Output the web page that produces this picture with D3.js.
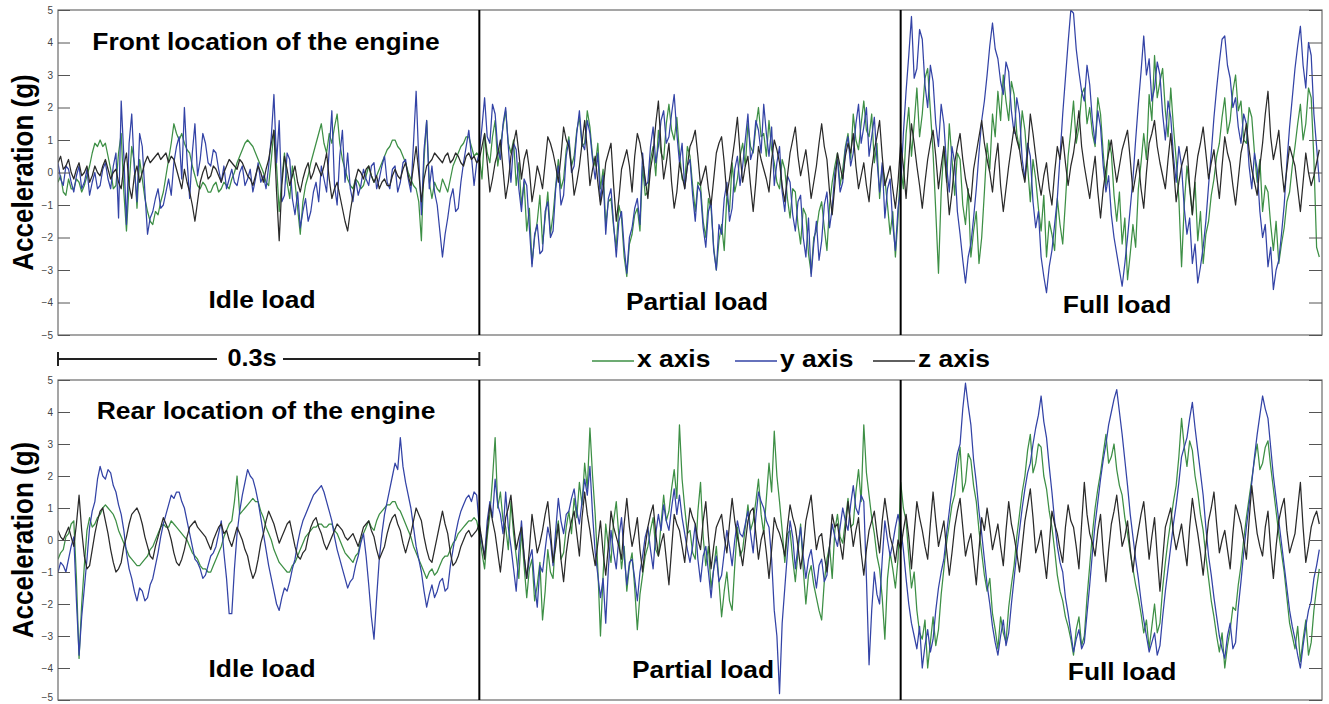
<!DOCTYPE html>
<html><head><meta charset="utf-8">
<script src="https://cdn.jsdelivr.net/npm/d3@7"></script>
<style>body{margin:0;background:#fff} text{font-family:"Liberation Sans",Arial,sans-serif}</style>
</head><body><svg id="c" width="1329" height="704"></svg>
<script>
const segmentNames = ["Idle load", "Partial load", "Full load"];
const segmentSeconds = 0.3;
const yTicks = [5, 4, 3, 2, 1, 0, -1, -2, -3, -4, -5];
const seriesNames = ["x axis", "y axis", "z axis"];
const seriesColors = ["#3d8f45", "#3343a6", "#2a2a2a"];
const panelTitles = ["Front location of the engine", "Rear location of the engine"];
const scaleLabel = "0.3s";
const yLabel = "Acceleration (g)";

// ---- Front location: x axis (green)
const frontIdleX = [-0.3,-0.1,-0.6,-0.7,-0.2,-0.5,-0.5,-0.2,-0.3,-0.6,-0.4,-0.1,0.2,0.6,0.9,0.8,1.0,0.8,0.9,0.5,
0.1,-0.5,-0.4,0.6,1.2,-0.6,-1.8,-0.4,0.8,0.3,-1.1,0.4,-0.2,-0.8,-1.2,-1.5,-1.6,-1.2,-1.3,-0.9,
-0.6,-0.1,0.4,0.9,1.5,1.2,1.0,1.2,0.9,0.7,0.6,0.2,-0.1,-0.4,-0.5,-0.3,-0.4,-0.6,-0.6,-0.4,
-0.3,-0.6,-0.5,-0.3,-0.4,-0.5,-0.2,0.0,0.3,0.5,0.7,0.9,1.0,0.9,0.8,0.6,0.4,0.2,0.0,-0.3,
-0.4,0.4,1.3,0.2,-1.2,-0.2,0.6,-0.3,-0.8,0.2,-0.3,-1.1,-1.9,-0.9,-0.4,-0.1,0.3,0.6,0.9,1.2,
1.5,0.9,0.6,1.2,0.9,1.4,1.8,0.9,0.4,0.1,-0.2,-0.4,-0.5,-0.2,-0.3,-0.5,-0.4,-0.1,0.2,-0.1,
-0.3,-0.1,0.1,0.3,0.5,0.7,0.8,1.0,1.0,0.8,0.7,0.5,0.3,0.0,-0.2,-0.4,-0.5,-0.9,-2.1,0.4,
1.6,-0.3,-0.8,-0.3,-0.5,-0.6,-0.2,-0.4,-0.6,-0.2,0.2,0.4,0.6,0.8,0.9,1.1,1.1,0.8,0.5,0.6];
const frontPartialX = [0.5,-0.2,1.2,0.6,0.3,1.1,1.6,0.2,0.8,1.4,1.9,0.9,0.6,1.0,-0.4,0.3,-1.0,-0.3,-1.8,-1.1,
-2.8,-2.0,-1.5,-0.7,-2.2,-1.4,-0.6,-1.9,-1.3,-0.4,0.4,-0.5,-0.2,0.7,1.1,0.2,0.5,1.3,1.7,0.8,
0.9,1.9,1.4,0.5,0.2,0.9,-0.5,0.1,-1.6,-0.9,-0.8,-1.7,-2.3,-1.0,-1.4,-2.6,-3.2,-2.2,-1.9,-1.3,
-1.1,-1.8,0.2,-0.7,-0.6,0.4,0.8,-0.1,1.3,0.6,0.4,1.5,2.1,1.3,1.0,1.7,0.6,-0.2,-0.3,0.8,
0.5,-0.4,-1.2,-0.3,-0.4,-1.5,-2.0,-0.8,-1.1,-2.3,-3.0,-2.1,-1.6,-2.4,-0.7,-1.2,0.3,-0.6,-0.2,0.5,
0.9,0.2,1.5,0.8,0.6,1.4,2.0,1.1,1.2,0.5,1.6,0.7,0.3,-0.3,-0.5,0.4,0.1,-0.8,-1.4,-0.5,
-0.6,-1.6,-2.2,-1.1,-1.3,-2.5,-3.1,-2.0,-1.8,-1.2,-0.9,-1.7,-2.4,-1.0,-0.3,0.2,0.6,-0.4,0.1,0.8,
1.2,0.4,1.8,1.0,0.7,1.5,2.2,1.3,1.1,1.8,0.3,0.9,-0.8,0.2,-0.2,-1.0,-1.9,-1.2,-2.6,-1.4];
const frontFullX = [0.2,-0.5,1.2,2.0,0.5,1.5,2.6,1.1,1.8,2.9,3.2,1.9,0.6,-1.2,-3.1,-0.6,0.8,-0.3,1.5,0.4,
-0.7,0.6,0.4,-1.0,-1.6,-0.5,-2.6,-1.8,-1.2,-2.8,-2.0,-0.6,0.9,0.1,1.8,1.1,2.5,1.6,3.0,2.2,
1.6,2.8,2.4,1.2,0.7,1.9,1.3,0.2,-0.9,0.4,-0.2,-1.1,-1.8,-0.7,-2.6,-1.5,-1.9,-2.4,-0.8,-1.6,
-2.2,-0.9,0.5,1.3,2.2,0.9,1.4,2.4,2.6,1.5,2.0,1.2,0.8,2.3,1.8,0.6,-0.4,1.0,0.6,-0.7,
-1.5,-0.6,-2.2,-1.4,-3.3,-2.5,-1.6,-2.3,-0.5,0.3,1.2,0.4,2.4,1.6,3.6,2.3,2.8,3.2,1.9,1.1,
2.6,1.4,0.4,-0.8,-2.9,-1.0,0.2,-0.5,-1.3,-0.3,-2.1,-1.2,-2.8,-1.9,-1.5,-0.7,-0.2,0.5,0.9,1.7,
2.3,1.2,1.6,2.5,3.0,1.9,2.2,1.0,0.9,2.0,1.7,0.6,-0.3,0.4,-1.2,-0.4,-0.6,-1.6,-2.4,-1.5,
-2.8,-2.2,-1.7,-0.9,-0.6,0.2,0.8,1.5,2.1,1.0,1.5,2.6,2.3,0.4,-2.3,-2.6];
// ---- Front location: y axis (blue)
const frontIdleY = [0.3,-0.2,-0.4,0.2,0.1,-0.3,-0.6,-0.1,0.2,-0.5,-0.3,0.1,-0.7,-0.3,0.0,-0.5,-0.4,0.1,0.3,-0.2,
-0.5,0.2,0.6,-1.4,2.2,0.5,-1.6,0.9,1.8,0.1,-0.9,1.2,0.8,-0.6,-1.9,-1.4,-1.2,-0.8,-0.5,-1.1,
-1.0,-0.6,-0.2,-0.7,0.3,0.8,1.1,-0.2,2.0,0.4,-0.8,0.6,1.5,-0.1,0.4,1.2,0.9,0.3,0.2,0.7,
0.6,0.1,-0.3,0.2,-0.5,-0.2,0.1,-0.3,-0.4,0.0,0.2,-0.4,-0.2,0.1,-0.6,-0.2,0.3,-0.3,-0.1,-0.5,
0.2,1.1,2.4,0.3,1.6,-0.9,-0.7,0.6,0.4,-0.8,-1.3,-0.6,-1.7,-1.2,-0.8,-1.5,-1.2,-0.6,-0.3,-0.9,
0.2,-0.2,-0.6,0.7,1.9,-0.4,-1.0,0.5,1.3,-0.3,0.6,-0.5,-0.9,-0.2,-0.7,-0.4,0.1,-0.2,-0.4,0.2,
0.3,-0.5,-0.2,0.2,0.5,-0.3,-0.5,0.1,0.2,-0.6,-0.3,0.3,0.4,-0.2,-0.6,0.9,2.5,0.4,-1.3,0.7,
1.6,-0.5,0.2,-0.6,-1.0,-1.8,-2.6,-1.9,-1.4,-0.8,-0.5,-1.2,-1.1,-0.3,0.3,0.8,1.3,0.5,-0.4,0.3];
const frontPartialY = [0.6,1.4,2.3,1.1,0.9,2.1,1.8,0.7,0.4,1.5,2.0,0.8,-0.3,0.9,0.7,-0.5,-1.2,-0.2,-0.4,-1.7,
-2.9,-1.9,-1.6,-2.5,-2.4,-1.2,-0.9,-2.0,-1.8,-0.5,0.2,-1.0,-0.7,0.5,1.0,0.0,0.2,1.2,1.9,0.9,
0.7,1.6,1.2,0.4,-0.2,0.6,-0.9,-0.1,-1.9,-0.8,-0.5,-1.6,-2.6,-1.5,-1.2,-2.3,-3.1,-2.0,-1.7,-1.1,
-0.8,-1.6,0.6,-0.4,-0.3,0.8,1.4,0.3,0.8,1.6,1.9,0.9,1.1,1.8,2.4,1.2,0.3,0.9,-0.5,0.2,
0.4,-0.7,-1.5,-0.4,-0.6,-1.7,-2.3,-1.2,-0.9,-2.4,-3.0,-1.6,-1.9,-0.8,-0.3,-1.5,-1.1,0.1,0.5,-0.4,
0.2,1.0,1.8,0.4,0.7,1.6,1.3,0.6,2.1,1.2,0.5,1.4,-0.4,0.3,0.8,-0.6,-1.2,-0.1,-0.3,-1.3,
-1.8,-0.9,-0.7,-2.0,-2.6,-1.4,-3.2,-2.2,-1.5,-2.7,-2.1,-1.0,-0.6,-1.7,-1.1,0.0,0.4,-0.6,-0.3,0.7,
1.1,0.2,0.6,1.5,2.1,0.9,1.4,2.0,0.5,1.1,1.7,0.4,-0.6,0.3,-1.4,-0.5,-0.2,-1.6,-2.4,-1.1];
const frontFullY = [-0.5,1.2,2.5,3.6,4.8,2.9,3.2,4.4,4.1,2.7,2.0,3.3,2.8,1.5,0.8,2.1,1.5,0.2,-0.6,0.8,
0.3,-1.2,-1.9,-2.7,-3.4,-2.6,-2.2,-1.4,-0.5,0.6,1.6,2.2,3.0,3.9,4.6,3.8,3.5,2.8,2.4,3.4,
3.1,1.9,1.2,2.3,1.8,0.4,-0.2,0.9,0.5,-0.9,-1.7,-1.2,-2.6,-3.2,-3.7,-2.9,-2.4,-1.6,-0.8,0.5,
1.8,2.9,4.0,5.0,4.9,3.8,3.1,2.5,2.2,3.3,2.7,1.6,0.9,1.9,1.4,0.2,-0.6,-0.1,-1.3,-2.0,
-2.5,-3.0,-3.5,-2.8,-2.0,-1.1,-0.2,1.0,2.1,3.1,4.2,3.0,3.5,2.2,2.6,3.4,3.0,1.8,1.0,2.2,
1.7,0.5,-0.3,0.8,0.2,-1.1,-1.9,-1.4,-2.8,-2.2,-3.4,-2.9,-2.3,-1.5,-0.4,0.6,1.7,2.6,3.4,4.1,
4.2,3.3,2.9,2.0,2.3,1.4,0.9,1.8,1.5,0.2,-0.5,0.6,0.1,-1.2,-2.0,-1.6,-2.9,-2.3,-3.6,-3.0,
-2.7,-1.9,-1.0,0.3,1.4,2.3,3.2,3.9,4.5,3.3,2.6,4.0,3.6,1.8,0.8,-0.3];
// ---- Front location: z axis (black)
const frontIdleZ = [0.3,0.5,0.1,0.2,0.4,0.0,-0.2,0.1,0.3,-0.1,0.0,0.2,-0.3,-0.1,0.2,0.0,-0.1,0.2,0.4,0.1,
-0.2,0.0,0.1,-0.3,-0.5,0.2,0.6,-0.4,-0.8,-0.1,0.2,-0.3,0.0,0.3,0.5,0.3,0.4,0.5,0.6,0.4,
0.5,0.6,0.3,0.5,0.4,0.1,-0.2,-0.5,0.1,-0.3,-0.6,-1.0,-1.5,-0.9,-0.3,0.0,0.2,-0.2,-0.1,0.2,
0.1,-0.1,-0.3,0.0,0.2,0.4,0.3,0.2,0.1,0.4,0.3,0.1,-0.1,-0.2,-0.4,-0.1,0.2,0.0,-0.3,0.1,
0.4,0.9,1.3,-0.6,-2.1,-0.4,0.5,0.1,-0.4,-0.1,0.2,-0.3,-0.6,-0.2,0.1,0.3,-0.2,0.0,0.3,0.1,
-0.1,0.2,0.6,-0.2,-0.8,-0.5,-0.3,-0.7,-1.1,-1.5,-1.8,-1.2,-0.7,-0.2,0.1,0.0,-0.2,0.1,0.2,-0.1,
-0.3,-0.1,-0.5,-0.3,-0.2,-0.4,-0.4,-0.1,0.1,-0.1,-0.2,0.1,0.3,-0.1,-0.4,0.2,0.8,0.0,-0.9,-0.2,
0.2,0.3,0.4,0.6,0.5,0.4,0.3,0.5,0.6,0.3,0.4,0.6,0.5,0.3,0.2,0.5,0.6,0.4,0.5,0.3];
const frontPartialZ = [0.4,0.8,1.2,0.3,-0.6,-0.2,0.3,0.6,1.0,0.1,-0.8,-0.3,0.5,0.9,1.3,0.6,-0.2,0.4,0.7,0.1,
-0.9,-0.4,0.2,-0.1,-0.5,0.3,1.1,0.9,0.6,0.2,-0.3,0.5,1.4,1.0,0.8,0.2,-0.7,-0.3,0.2,0.9,
1.6,0.7,-0.4,0.1,0.5,-0.3,-1.0,-0.5,0.3,0.6,0.9,-0.4,-1.5,-0.8,0.1,0.4,0.7,0.2,-0.6,0.5,
1.2,0.9,0.4,-0.2,-0.8,0.1,0.6,1.5,2.2,0.8,-0.2,0.3,0.9,-0.3,-1.1,-0.6,0.3,-0.1,-0.5,0.2,
0.8,1.0,1.3,0.5,-0.4,-0.1,0.2,-0.5,-1.0,-0.2,0.6,0.9,1.1,0.3,-0.7,-0.2,0.4,1.0,1.7,0.6,
-0.3,0.2,0.5,-0.4,-1.2,-0.3,0.8,0.4,0.1,-0.2,-0.6,0.4,1.0,0.7,0.3,-0.4,-0.9,-0.1,0.6,1.0,
1.4,0.5,-0.1,0.3,0.7,0.0,-0.8,-0.3,0.2,0.9,1.5,0.8,0.4,-0.6,-1.3,-0.4,0.6,0.2,-0.2,0.5,
0.9,0.6,1.2,0.2,-0.5,-0.1,0.3,-0.4,-0.9,0.1,0.7,1.1,1.6,0.5,-0.4,-0.1,0.2,-0.5,-1.1,-0.3];
const frontFullZ = [0.9,0.2,-0.8,0.4,1.5,0.9,0.2,-0.4,-1.1,-0.3,0.4,0.9,1.3,0.5,-0.5,0.2,0.8,-0.2,-1.3,-0.6,
0.3,0.8,1.2,0.4,-0.2,-0.6,-0.9,0.1,0.6,1.1,1.6,0.9,0.4,0.0,-0.6,0.3,0.9,-0.4,-1.2,-0.5,
0.2,0.8,1.4,1.0,0.7,0.1,-0.3,0.6,1.8,1.2,0.5,-0.2,-0.7,-0.1,0.3,-0.5,-1.0,0.0,0.8,0.4,
1.1,0.3,-0.4,0.2,0.6,1.2,1.9,0.8,0.2,-0.3,-0.8,-0.1,0.5,-0.6,-1.4,-0.5,0.1,0.6,1.0,0.3,
-0.3,0.2,0.7,1.0,1.3,0.4,-0.6,-0.1,0.4,-0.5,-1.1,0.0,0.9,1.2,1.6,0.8,0.3,-0.1,-0.5,0.4,
1.2,0.2,-0.9,-0.3,0.2,0.5,0.8,-0.4,-1.3,-0.2,0.5,0.9,1.4,0.6,-0.2,0.3,0.7,-0.1,-0.8,0.2,
1.1,0.6,0.3,-0.4,-1.0,-0.2,0.6,1.0,1.5,0.7,0.1,-0.3,-0.7,0.2,0.9,1.8,2.5,1.1,0.4,0.8,
1.3,0.2,-0.6,0.1,0.8,0.5,0.2,-0.5,-1.2,-0.3,0.6,0.0,-0.4,-0.1,0.3,0.7];

// ---- Rear location: x axis (green)
const rearIdleX = [-0.6,-0.4,-0.3,0.1,0.2,0.5,0.6,-1.2,-3.7,-2.0,-0.8,0.3,0.7,0.4,0.5,0.7,0.8,1.0,1.1,1.0,
0.9,0.8,0.6,0.3,0.1,-0.1,-0.3,-0.5,-0.6,-0.7,-0.8,-0.8,-0.7,-0.6,-0.5,-0.3,-0.2,0.0,0.2,0.4,
0.5,0.4,0.4,0.6,0.5,0.4,0.3,0.2,0.1,0.0,-0.2,-0.4,-0.5,-0.6,-0.8,-0.9,-0.9,-1.0,-1.0,-0.8,
-0.6,-0.4,-0.2,0.1,0.3,0.5,0.6,1.2,2.0,0.8,0.9,1.0,1.1,1.2,1.3,1.2,1.2,0.9,0.7,0.4,
0.2,0.0,-0.3,-0.5,-0.7,-0.8,-0.9,-1.0,-1.0,-0.8,-0.7,-0.5,-0.3,-0.1,0.1,0.2,0.3,0.4,0.4,0.5,
0.5,0.4,0.4,0.5,0.5,0.3,0.2,0.0,-0.2,-0.4,-0.5,-0.6,-0.7,-0.5,-0.4,0.0,0.2,0.4,0.6,0.4,
0.3,0.6,0.8,0.9,1.0,1.1,1.1,1.2,1.2,1.0,0.9,0.7,0.5,0.3,0.1,-0.2,-0.4,-0.6,-0.8,-1.0,
-1.2,-1.0,-0.9,-1.1,-1.0,-0.8,-0.6,-0.5,-0.5,-0.3,-0.1,0.0,0.2,0.3,0.4,0.5,0.6,0.6,0.7,0.6];
const rearPartialX = [0.2,-0.4,-0.9,0.1,0.8,1.9,3.2,1.0,1.5,0.6,0.4,-0.3,1.2,0.2,-0.5,-1.2,0.3,-0.8,-1.8,-0.9,
-0.6,-1.9,-1.4,-0.7,-2.5,-1.6,-0.3,-1.0,-1.2,0.1,0.6,-0.6,-0.4,0.4,0.9,0.2,1.3,0.7,1.8,1.1,
2.4,1.6,3.5,2.0,0.8,-0.9,-3.0,-1.1,0.5,-0.2,-0.7,0.6,1.2,0.1,-0.9,-0.2,-1.6,-0.8,-0.4,-1.5,
-2.8,-1.7,-1.1,-0.5,-0.2,0.3,0.7,-0.3,-0.5,0.5,1.4,0.6,0.9,1.6,2.2,1.3,3.6,1.9,1.0,0.2,
0.3,-0.4,-0.6,0.9,1.8,0.1,-0.8,-0.2,-1.5,-0.9,-0.2,-1.3,-2.4,-1.6,-1.0,-1.9,-2.2,-0.8,0.4,-0.5,
-0.3,0.4,1.1,0.3,0.6,1.2,1.9,0.8,0.2,1.3,2.4,1.5,3.4,2.0,1.2,0.3,-0.7,0.2,0.3,-0.6,
-1.3,-0.4,0.5,-0.9,-2.0,-1.1,-0.8,-1.4,-1.8,-2.2,-2.5,-1.3,-0.6,-0.2,-1.2,0.3,0.8,0.1,-0.1,0.6,
1.3,0.4,0.5,1.5,2.2,1.2,3.6,2.1,1.4,0.7,0.2,-0.5,-0.9,-1.8,-3.1,-1.2,-0.4,-0.9,-1.5,-0.6];
const rearFullX = [1.8,1.0,0.6,-0.5,-1.5,-1.0,-2.2,-2.9,-3.1,-2.5,-4.0,-3.2,-2.4,-3.3,-2.8,-1.7,-0.9,-0.1,0.5,1.1,
1.4,2.2,2.9,1.5,1.8,2.7,2.5,1.7,1.2,0.3,-0.4,-1.1,-1.6,-1.2,-2.3,-2.8,-3.4,-2.4,-2.9,-3.2,
-2.1,-1.4,-0.8,0.1,0.8,1.5,2.0,2.8,3.3,2.1,2.4,3.0,2.9,2.0,1.6,0.9,0.4,-0.3,-1.1,-1.6,
-1.9,-2.4,-2.7,-3.1,-3.6,-2.8,-2.4,-3.3,-3.0,-1.8,-0.8,0.2,1.0,1.6,2.1,2.7,3.3,2.4,2.6,3.0,
2.2,1.7,1.4,0.7,0.2,-0.4,-0.9,-1.4,-1.8,-2.3,-2.9,-2.5,-3.4,-2.7,-2.0,-2.9,-2.6,-1.5,-0.7,0.0,
0.6,1.2,1.7,2.6,3.8,2.9,2.3,3.1,2.8,2.0,1.5,0.8,0.3,-0.5,-1.2,-1.9,-2.4,-3.0,-3.5,-2.9,
-4.0,-3.3,-2.8,-2.1,-2.2,-1.4,-0.8,0.0,0.7,1.3,1.9,2.5,3.0,2.2,2.4,2.9,3.1,2.3,1.6,0.9,
0.2,-0.4,-1.0,-1.8,-2.6,-3.0,-3.4,-2.7,-3.8,-3.1,-2.5,-3.6,-3.2,-2.2,-1.5,-0.9];
// ---- Rear location: y axis (blue)
const rearIdleY = [-1.0,-0.7,-0.8,-1.0,-0.6,-0.2,0.1,-1.9,-3.6,-2.4,-1.5,-0.6,0.4,0.9,1.2,1.9,2.3,2.0,1.9,2.2,
2.1,1.7,1.5,1.1,0.8,0.3,-0.4,-0.9,-1.2,-1.6,-1.9,-1.5,-1.6,-1.9,-1.8,-1.4,-1.2,-0.8,-0.4,0.1,
0.5,0.8,1.1,1.4,1.3,1.5,1.5,1.2,1.0,0.6,0.2,-0.2,-0.6,-0.7,-0.9,-1.2,-1.1,-0.8,-0.5,-0.4,
-0.2,0.2,0.6,-0.4,-1.2,-2.3,-2.3,-0.9,0.2,0.9,1.4,1.8,2.2,2.0,1.9,1.6,1.2,0.7,0.2,-0.3,
-0.8,-1.2,-1.6,-2.0,-2.2,-1.8,-1.5,-1.6,-1.3,-0.9,-0.6,-0.1,0.3,0.6,0.8,1.0,1.2,1.4,1.5,1.6,
1.7,1.5,1.2,0.9,0.6,0.1,-0.3,-0.6,-0.9,-1.2,-1.5,-1.3,-1.2,-0.8,-0.5,-0.1,0.2,-0.5,-1.4,-2.4,
-3.1,-1.8,-0.6,0.2,0.8,1.2,1.6,2.0,2.4,2.2,3.2,2.3,1.8,1.4,1.0,0.4,-0.2,-0.6,-1.0,-1.6,
-2.1,-1.7,-1.4,-1.8,-1.6,-1.3,-1.2,-1.6,-1.5,-0.8,-0.3,0.2,0.6,0.9,1.1,1.3,1.4,1.2,1.5,1.4];
const rearPartialY = [0.4,-0.1,-0.5,0.6,1.2,0.7,1.9,1.1,0.8,0.2,1.5,0.4,-0.2,-0.9,-1.6,-0.4,0.6,-0.5,-1.2,-0.6,
-0.3,-1.4,-2.1,-0.8,-1.0,-0.3,0.4,0.0,-0.8,0.3,1.3,0.6,0.2,0.8,0.9,1.3,1.6,0.9,0.5,1.2,
1.9,1.4,2.3,0.8,-0.4,-1.1,-1.8,-1.2,-2.6,-0.9,0.3,-0.4,-0.9,0.1,0.7,-0.5,-1.4,-0.7,-0.6,-1.2,
-1.9,-1.0,-0.5,0.1,0.4,-0.3,-0.9,0.2,0.8,0.3,1.1,0.6,0.3,1.0,1.6,0.8,1.4,0.7,0.2,-0.3,
-0.7,-0.2,0.5,-0.6,-1.3,-0.5,-0.2,-1.0,-1.8,-0.9,-0.5,-1.3,-1.1,-0.4,0.3,-0.2,-0.8,0.0,0.6,0.2,
0.1,0.5,0.9,0.2,-0.4,0.7,1.5,1.2,1.0,0.6,0.4,-0.6,-2.2,-3.0,-4.8,-2.6,-1.5,-0.4,0.6,0.1,-0.9,-0.2,
0.4,-0.5,-1.2,-0.6,-0.3,-0.9,-1.5,-0.8,-0.6,-1.3,-1.1,-0.2,0.5,0.1,-0.2,0.4,1.0,0.6,0.3,1.1,
1.7,1.0,0.8,1.4,1.2,-1.2,-3.9,-2.2,-1.0,-1.7,-2.0,-0.6,0.6,0.0,-0.5,-0.1,0.4,0.8];
const rearFullY = [0.4,-0.3,-1.2,-2.0,-2.6,-3.0,-3.4,-2.7,-4.0,-3.3,-2.8,-3.5,-3.1,-2.2,-1.5,-1.0,-0.6,0.2,0.9,1.6,
2.1,2.7,3.0,4.1,4.9,4.2,3.6,2.5,1.8,0.9,0.2,-0.6,-1.4,-2.0,-2.7,-3.2,-3.6,-3.0,-2.5,-3.3,
-2.9,-2.0,-1.2,-0.4,0.3,1.0,1.6,2.1,2.4,3.0,3.5,3.9,4.5,3.7,3.2,2.3,1.5,0.6,-0.2,-0.7,
-1.0,-1.8,-2.3,-2.9,-3.5,-3.1,-2.8,-3.4,-3.2,-2.3,-1.4,-0.4,0.5,1.2,1.9,2.5,3.0,3.6,4.0,4.4,
4.7,4.0,3.3,2.5,1.7,0.8,0.1,-0.6,-1.2,-1.9,-2.5,-3.0,-3.5,-3.2,-2.9,-3.6,-3.3,-2.4,-1.6,-0.9,
-0.2,0.5,1.1,1.8,2.6,2.9,3.2,3.8,4.3,3.5,2.8,2.1,1.4,0.4,-0.5,-1.1,-1.8,-2.4,-3.0,-3.4,
-3.7,-3.0,-2.6,-3.4,-3.2,-2.1,-1.3,-0.4,0.4,1.1,1.8,2.6,3.3,3.9,4.5,4.1,3.8,2.9,2.0,1.3,
0.6,-0.1,-0.8,-1.5,-2.2,-2.7,-3.1,-3.6,-4.0,-3.3,-2.7,-2.2,-1.9,-1.2,-0.8,-0.3];
// ---- Rear location: z axis (black)
const rearIdleZ = [0.3,0.1,0.0,0.2,0.4,0.1,-0.2,0.5,1.4,0.3,-0.5,-0.9,-0.8,-0.3,0.2,0.6,0.9,1.0,0.6,0.2,
-0.3,-0.7,-1.0,-0.9,-0.7,-0.2,0.1,0.5,0.8,0.9,1.0,0.8,0.5,0.1,-0.2,-0.5,-0.6,-0.2,0.1,0.4,
0.7,0.5,0.3,0.0,-0.4,-0.7,-0.8,-0.6,-0.3,0.1,0.4,0.5,0.6,0.4,0.3,0.2,0.1,-0.1,-0.3,0.0,
0.2,0.4,0.5,0.2,0.3,0.0,-0.2,0.1,0.4,0.2,0.0,-0.3,-0.5,-0.9,-1.2,-1.0,-0.6,-0.1,0.2,0.6,
0.9,0.7,0.5,0.2,-0.1,0.1,0.3,0.5,0.6,0.2,-0.2,-0.5,-0.6,-0.4,-0.3,0.1,0.4,0.6,0.7,0.4,
0.2,-0.1,-0.3,-0.1,0.1,0.3,0.5,0.4,0.3,0.1,0.0,0.1,0.2,0.0,-0.2,0.1,0.4,0.5,0.6,0.3,
0.1,-0.3,-0.6,-0.4,-0.2,0.2,0.5,0.7,0.8,0.5,0.3,-0.1,-0.4,-0.1,0.2,0.6,1.0,0.8,0.6,0.1,
-0.3,-0.6,-0.7,-0.3,0.1,0.5,0.9,0.5,0.2,-0.4,-0.8,-0.7,-0.5,-0.2,0.0,0.2,0.3,0.1,0.2,0.3];
const rearPartialZ = [0.5,0.0,-0.6,0.3,1.1,0.6,0.2,-0.4,-1.0,-0.2,0.7,1.0,1.4,0.5,-0.3,0.1,0.4,-0.5,-1.2,-0.3,
0.8,0.2,-0.4,-0.1,0.3,0.8,1.2,0.3,-0.7,-0.2,0.5,-0.6,-1.3,-0.4,0.2,0.6,0.9,0.2,-0.5,0.7,
1.5,0.8,0.3,-0.3,-0.8,-0.1,0.6,-0.4,-1.1,-0.2,0.9,0.4,0.1,-0.2,-0.6,0.5,1.3,0.4,-0.2,0.2,
0.7,-0.3,-1.0,-0.2,0.4,0.8,1.1,0.2,-0.5,-0.1,0.2,-0.6,-1.4,-0.3,0.8,0.5,0.3,-0.2,-0.7,0.2,
1.0,0.7,0.5,0.0,-0.3,0.6,1.2,0.1,-0.9,-0.2,0.4,0.6,0.8,0.1,-0.4,0.5,1.3,0.6,0.1,-0.3,
-0.8,-0.1,0.6,0.9,1.0,0.2,-0.6,0.0,0.3,-0.4,-1.2,-0.3,0.7,0.4,0.2,-0.1,-0.5,0.4,1.1,0.7,
0.4,-0.2,-0.9,-0.3,0.6,1.0,1.4,0.5,-0.3,0.1,0.2,-0.5,-1.0,-0.2,0.8,0.4,0.5,-0.1,-0.6,0.3,
1.2,0.5,-0.2,0.3,0.7,-0.4,-1.1,-0.3,0.3,0.6,0.9,0.2,-0.4,0.6,1.3,0.7,0.1,-0.2,-0.7,0.0];
const rearFullZ = [-0.3,0.3,0.8,0.1,-0.9,0.2,1.2,0.7,0.3,-0.2,-0.6,0.5,1.5,0.6,-0.2,0.2,0.6,-0.3,-1.1,-0.4,
0.4,0.9,1.3,0.4,-0.5,-0.1,0.2,-0.6,-1.4,-0.3,0.7,0.3,1.0,0.4,-0.3,0.1,0.5,-0.2,-0.8,0.3,
1.2,0.5,0.1,-0.4,-1.0,-0.2,0.6,1.1,1.6,0.7,-0.4,-0.1,0.3,-0.5,-1.2,-0.2,0.9,0.5,0.2,-0.3,
-0.7,0.4,1.1,0.6,0.4,-0.2,-0.9,0.5,1.8,0.8,0.2,-0.1,-0.5,0.3,0.8,-0.4,-1.3,-0.3,0.5,0.9,
1.4,0.6,-0.2,0.1,0.6,-0.3,-1.0,-0.2,0.3,0.8,1.2,0.3,-0.6,0.1,0.7,-0.5,-1.6,-0.6,0.4,0.7,
1.0,0.2,-0.3,0.1,0.5,-0.2,-0.8,0.4,1.3,0.7,0.2,-0.4,-1.1,-0.2,0.6,1.0,1.5,0.5,-0.4,0.0,
0.3,-0.3,-0.9,0.2,1.1,0.8,0.5,0.0,-0.6,0.6,1.7,0.9,0.2,-0.2,-0.5,0.4,0.9,-0.3,-1.2,-0.2,
0.6,1.0,1.3,0.3,-0.4,-0.1,0.2,1.0,1.8,0.4,-0.7,-0.2,0.4,0.7,0.9,0.5];

const panels = [
  { title: panelTitles[0], top: 10, bottom: 335,
    series: [[frontIdleX, frontPartialX, frontFullX], [frontIdleY, frontPartialY, frontFullY], [frontIdleZ, frontPartialZ, frontFullZ]],
    titleY: 50, labelY: [308, 310, 313], labelX: [262, 697, 1117] },
  { title: panelTitles[1], top: 380, bottom: 700,
    series: [[rearIdleX, rearPartialX, rearFullX], [rearIdleY, rearPartialY, rearFullY], [rearIdleZ, rearPartialZ, rearFullZ]],
    titleY: 419, labelY: [677, 678, 680], labelX: [262, 703, 1122] }
];

const svg = d3.select("#c");
const left = 58, right = 1322;
const x = d3.scaleLinear().domain([0, segmentSeconds * segmentNames.length]).range([left, right]);

function stretchedText(g, str, cx, by, size, anchor) {
  return g.append("text")
    .attr("transform", `translate(${cx},${by}) scale(1.1,1)`)
    .attr("text-anchor", anchor || "middle")
    .style("font-weight", "bold").style("font-size", size + "px").attr("fill", "#000")
    .text(str);
}

panels.forEach((p, pi) => {
  const y = d3.scaleLinear().domain([-5, 5]).range([p.bottom, p.top]);
  const g = svg.append("g");
  const clipId = "clip" + pi;
  svg.append("clipPath").attr("id", clipId).append("rect")
    .attr("x", left).attr("y", p.top).attr("width", right - left).attr("height", p.bottom - p.top);

  const line = d3.line().x(d => x(d.t)).y(d => y(d.v));
  p.series.forEach((segs, si) => {
    const pts = [];
    segs.forEach((arr, k) => {
      const step = segmentSeconds / arr.length;
      arr.forEach((v, i) => pts.push({ t: k * segmentSeconds + i * step, v }));
    });
    g.append("path").datum(pts).attr("d", line)
      .attr("clip-path", `url(#${clipId})`)
      .attr("fill", "none").attr("stroke", seriesColors[si])
      .attr("stroke-width", 1.25).attr("stroke-linejoin", "round");
  });

  g.append("rect").attr("x", left).attr("y", p.top).attr("width", right - left).attr("height", p.bottom - p.top)
    .attr("fill", "none").attr("stroke", "#6a6a6a").attr("stroke-width", 1.2);
  const axL = d3.axisLeft(y).tickValues(yTicks).tickSize(-12).tickPadding(5).tickFormat(d3.format("d"));
  const gl = g.append("g").attr("transform", `translate(${left},0)`).call(axL);
  gl.select(".domain").remove();
  gl.selectAll("line").attr("stroke", "#555");
  gl.selectAll("text").style("font-size", "10px").attr("fill", "#444").attr("x", -5)
    .attr("dy", d => (pi === 1 && d === -5) ? "0.05em" : "0.32em");
  const axR = d3.axisRight(y).tickValues(yTicks).tickSize(-13).tickFormat("");
  const gr = g.append("g").attr("transform", `translate(${right},0)`).call(axR);
  gr.select(".domain").remove();
  gr.selectAll("line").attr("stroke", "#555");

  [1, 2].forEach(k => {
    g.append("line").attr("x1", x(k * segmentSeconds)).attr("x2", x(k * segmentSeconds))
      .attr("y1", p.top).attr("y2", p.bottom).attr("stroke", "#000").attr("stroke-width", 2);
  });

  stretchedText(g, p.title, 266, p.titleY, 24);
  segmentNames.forEach((s, k) => stretchedText(g, s, p.labelX[k], p.labelY[k], 24));
  g.append("text")
    .attr("transform", `translate(33,${(p.top + p.bottom) / 2}) scale(1.1,1) rotate(-90)`)
    .attr("text-anchor", "middle").style("font-weight", "bold").style("font-size", "26px")
    .text(yLabel);
});

const sb = svg.append("g").attr("stroke", "#222").attr("stroke-width", 2);
const sbY = 359;
sb.append("line").attr("x1", x(0)).attr("x2", 217).attr("y1", sbY).attr("y2", sbY);
sb.append("line").attr("x1", 283).attr("x2", x(segmentSeconds)).attr("y1", sbY).attr("y2", sbY);
sb.append("line").attr("x1", x(0)).attr("x2", x(0)).attr("y1", sbY - 7).attr("y2", sbY + 7);
sb.append("line").attr("x1", x(segmentSeconds)).attr("x2", x(segmentSeconds)).attr("y1", sbY - 7).attr("y2", sbY + 7);
stretchedText(svg, scaleLabel, 252, 366, 23);

const legendX = [592, 735, 873];
seriesNames.forEach((n, i) => {
  svg.append("line").attr("x1", legendX[i]).attr("x2", legendX[i] + 42).attr("y1", 361).attr("y2", 361)
    .attr("stroke", seriesColors[i]).attr("stroke-width", 1.5);
  stretchedText(svg, n, legendX[i] + 45, 367, 24, "start");
});
</script></body></html>
